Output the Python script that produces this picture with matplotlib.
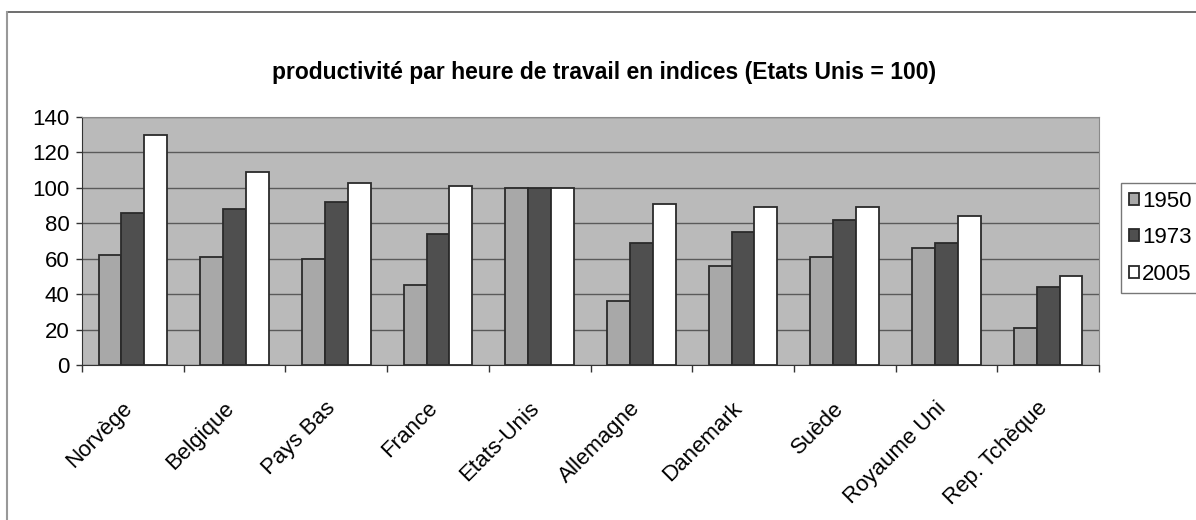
import numpy as np
import matplotlib
matplotlib.use("Agg")
import matplotlib.pyplot as plt
from matplotlib.lines import Line2D
import matplotlib.transforms as mtransforms

plt.rcParams['font.family'] = ['Liberation Sans', 'DejaVu Sans']

# Données
pays = ['Norvège', 'Belgique', 'Pays Bas', 'France', 'Etats-Unis',
        'Allemagne', 'Danemark', 'Suède', 'Royaume Uni', 'Rep. Tchèque']
annees = ['1950', '1973', '2005']
v1950 = [62, 61, 60, 45, 100, 36, 56, 61, 66, 21]
v1973 = [86, 88, 92, 74, 100, 69, 75, 82, 69, 44]
v2005 = [130, 109, 103, 101, 100, 91, 89, 89, 84, 50]

couleurs = ['#a8a8a8', '#4f4f4f', '#ffffff']
fond = '#bababa'

fig = plt.figure(figsize=(11.96, 5.2), dpi=100)
ax = fig.add_axes([82 / 1196, 1 - 365 / 520, (1099 - 82) / 1196, (365 - 117) / 520])
ax.set_facecolor(fond)

x = np.arange(len(pays))
w = 0.225
for i, (vals, c, lab) in enumerate(zip([v1950, v1973, v2005], couleurs, annees)):
    ax.bar(x + (i - 1) * w, vals, width=w, color=c, edgecolor='#2a2a2a',
           linewidth=1.3, label=lab, zorder=3)

ax.set_xlim(-0.5, len(pays) - 0.5)
ax.set_ylim(0, 140)
ax.set_yticks(np.arange(0, 141, 20))
ax.yaxis.grid(True, color='#5a5a5a', linewidth=1.0, zorder=1)
ax.set_axisbelow(True)

ax.tick_params(axis='y', labelsize=16, length=4, width=1, color='#333333', pad=5)
ax.set_xticks(x)
ax.set_xticklabels(pays, rotation=45, ha='right', va='center', rotation_mode='anchor', fontsize=16)
ax.tick_params(axis='x', length=0, pad=29)
ax.set_xticks(np.arange(-0.5, len(pays), 1), minor=True)
ax.tick_params(axis='x', which='minor', length=5, width=1, color='#333333')
off = mtransforms.ScaledTranslation(-4 / 100, 0, fig.dpi_scale_trans)
for t in ax.get_xticklabels():
    t.set_transform(t.get_transform() + off)

for s in ['top', 'right']:
    ax.spines[s].set_color('#8a8a8a')
for s in ['left', 'bottom']:
    ax.spines[s].set_color('#333333')

fig.text(604 / 1196, 1 - 72 / 520, 'productivité par heure de travail en indices (Etats Unis = 100)',
         ha='center', va='center', fontsize=16.5, fontweight='bold')

leg = fig.legend(loc='upper left', bbox_to_anchor=(1121 / 1196, 1 - 183 / 520),
                 fontsize=16, frameon=True, fancybox=False, edgecolor='#555555',
                 handlelength=0.45, handleheight=0.45, handletextpad=0.15,
                 labelspacing=0.7, borderpad=0.35, borderaxespad=0)
leg.get_frame().set_linewidth(1.0)

# cadre du graphique
fig.add_artist(Line2D([7 / 1196, 1], [1 - 12 / 520, 1 - 12 / 520], color='#555555', lw=1.2))
fig.add_artist(Line2D([7 / 1196, 7 / 1196], [0, 1 - 12 / 520], color='#999999', lw=1.5))

fig.savefig('out.png', dpi=100)
